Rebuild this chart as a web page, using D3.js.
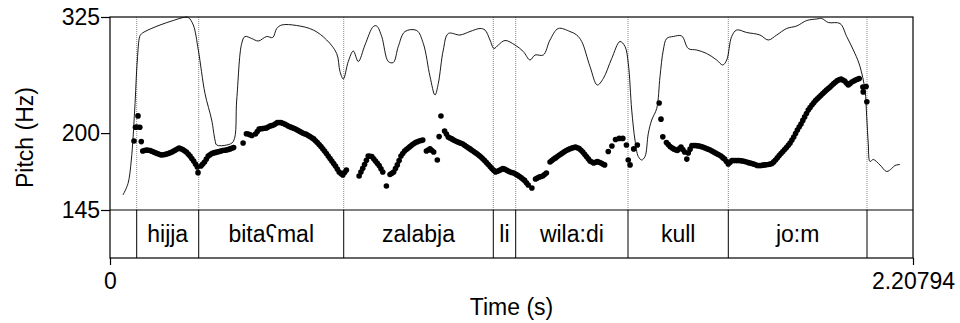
<!DOCTYPE html>
<html>
<head>
<meta charset="utf-8">
<script src="https://cdn.jsdelivr.net/npm/d3@7"></script>
<style>
  body { margin: 0; background: #fff; }
  text { font-family: "Liberation Sans", Arial, Helvetica, sans-serif; fill: #000; }
</style>
</head>
<body>
<div id="chart"></div>
<script>
/* pitch track (s, Hz) with intensity contour and word tier */
var width = 960;
var height = 323;

var duration = 2.20794;
var pitchRange = [145, 325];
var pitchTicks = [145, 200, 325];
var timeTicks = [0, duration];
var intensityRange = [41.4, 80]; // dB

var pitchTrack = [
  [0.066, 193.5], [0.070, 204.9], [0.074, 205.1], [0.077, 214.9], [0.082, 204.9], [0.086, 193.0],
  [0.09, 185.6], [0.095, 186.0], [0.10, 186.4], [0.105, 186.2], [0.11, 186.0], [0.115, 185.4],
  [0.12, 184.8], [0.125, 184.2], [0.13, 183.7], [0.135, 183.1], [0.14, 182.5], [0.145, 182.7],
  [0.15, 182.9], [0.155, 183.3], [0.16, 183.7], [0.165, 184.2], [0.17, 184.8], [0.175, 185.6],
  [0.18, 186.4], [0.185, 187.1], [0.19, 187.9], [0.195, 187.3], [0.20, 186.8], [0.205, 185.8],
  [0.21, 184.8], [0.215, 183.2], [0.22, 181.7], [0.225, 179.8], [0.23, 178.0], [0.235, 175.8],
  [0.24, 173.6], [0.242, 169.5], [0.25, 174.3], [0.255, 175.7], [0.26, 177.2], [0.265, 179.4],
  [0.27, 181.7], [0.275, 182.7], [0.28, 183.7], [0.285, 184.1], [0.29, 184.5], [0.295, 184.8],
  [0.30, 185.2], [0.305, 185.6], [0.31, 186.0], [0.315, 186.2], [0.32, 186.4], [0.325, 186.8],
  [0.33, 187.2], [0.335, 187.7], [0.34, 188.3],
  [0.366, 191.9], [0.375, 199.5],
  [0.38, 199.3], [0.385, 198.6], [0.39, 198.0], [0.40, 199.3], [0.405, 201.4], [0.41, 203.5],
  [0.415, 203.7], [0.42, 203.9], [0.425, 204.1], [0.43, 204.3], [0.435, 205.1], [0.44, 206.0],
  [0.445, 206.4], [0.45, 206.9], [0.455, 208.0], [0.46, 209.1], [0.465, 209.1], [0.47, 209.1],
  [0.475, 208.4], [0.48, 207.8], [0.485, 206.9], [0.49, 206.0], [0.495, 205.3], [0.50, 204.7],
  [0.505, 204.1], [0.51, 203.5], [0.515, 202.6], [0.52, 201.7], [0.525, 200.9], [0.53, 200.1],
  [0.535, 199.5], [0.54, 198.9], [0.545, 198.0], [0.55, 197.2], [0.555, 196.2], [0.56, 195.2],
  [0.565, 193.7], [0.57, 192.3], [0.575, 190.7], [0.58, 189.1], [0.585, 187.3], [0.59, 185.6],
  [0.595, 183.6], [0.60, 181.7], [0.605, 179.8], [0.61, 178.0], [0.615, 176.1], [0.62, 174.3],
  [0.625, 172.1], [0.63, 170.0], [0.635, 168.9], [0.64, 167.9], [0.645, 169.6], [0.65, 171.4],
  [0.685, 167.2], [0.69, 170.0], [0.695, 172.7], [0.70, 175.4], [0.705, 178.5], [0.71, 181.7],
  [0.715, 181.5], [0.72, 181.3], [0.725, 179.6], [0.73, 178.0], [0.735, 176.3], [0.74, 174.7],
  [0.745, 172.3], [0.75, 170.0], [0.76, 160.3], [0.77, 168.2], [0.775, 169.1], [0.78, 170.0],
  [0.785, 172.5], [0.79, 175.1], [0.795, 178.4], [0.80, 181.7], [0.805, 183.6], [0.81, 185.6],
  [0.815, 186.7], [0.82, 187.9], [0.825, 189.1], [0.83, 190.3], [0.835, 191.3], [0.84, 192.3],
  [0.845, 192.9], [0.85, 193.5], [0.855, 193.9], [0.86, 194.3], [0.87, 185.6], [0.875, 186.4],
  [0.88, 187.2], [0.885, 186.0], [0.89, 184.8], [0.90, 178.7], [0.905, 197.1],
  [0.91, 214.8], [0.92, 201.7], [0.925, 199.2], [0.93, 196.8], [0.935, 196.0], [0.94, 195.2],
  [0.945, 194.3], [0.95, 193.5], [0.955, 192.9], [0.96, 192.3], [0.965, 191.7], [0.97, 191.1],
  [0.975, 190.1], [0.98, 189.1], [0.985, 188.1], [0.99, 187.2], [0.995, 186.2], [1.00, 185.2],
  [1.005, 184.2], [1.01, 183.3], [1.015, 182.1], [1.02, 181.0], [1.025, 179.6], [1.03, 178.3],
  [1.035, 176.8], [1.04, 175.4], [1.045, 173.9], [1.05, 172.5], [1.055, 171.2], [1.06, 170.0],
  [1.065, 170.5], [1.07, 171.0], [1.075, 171.7], [1.08, 172.5], [1.085, 172.0], [1.09, 171.4],
  [1.095, 170.7], [1.10, 170.0], [1.105, 169.6], [1.11, 169.3], [1.115, 168.6], [1.12, 167.9],
  [1.125, 167.0], [1.13, 166.1], [1.135, 165.1], [1.14, 164.1], [1.145, 162.5], [1.15, 161.0],
  [1.16, 159.0], [1.17, 165.1], [1.175, 165.8], [1.18, 166.5], [1.185, 166.8], [1.19, 167.2],
  [1.195, 168.2], [1.20, 169.3], [1.21, 177.2], [1.215, 178.3], [1.22, 179.4], [1.225, 180.3],
  [1.23, 181.3], [1.235, 182.3], [1.24, 183.3], [1.245, 184.2], [1.25, 185.2], [1.255, 186.0],
  [1.26, 186.8], [1.265, 187.3], [1.27, 187.9], [1.275, 188.3], [1.28, 188.7], [1.285, 188.1],
  [1.29, 187.5], [1.295, 186.1], [1.30, 184.8], [1.305, 183.0], [1.31, 181.3], [1.315, 179.6],
  [1.32, 178.0], [1.325, 177.2], [1.33, 176.5], [1.335, 177.0], [1.34, 177.6], [1.345, 177.0],
  [1.35, 176.5], [1.355, 175.8], [1.36, 175.1], [1.37, 185.2], [1.38, 189.5],
  [1.39, 194.7], [1.40, 195.6], [1.41, 195.6], [1.42, 190.3], [1.425, 178.7], [1.43, 175.1],
  [1.44, 187.2], [1.45, 190.3],
  [1.510, 226.8], [1.515, 212.0], [1.520, 196.9], [1.53, 192.3], [1.535, 190.7], [1.54, 189.1],
  [1.545, 188.1], [1.55, 187.2], [1.555, 186.6], [1.56, 186.0], [1.565, 187.3], [1.57, 188.7],
  [1.575, 186.7], [1.58, 184.8], [1.586, 179.4], [1.59, 184.0], [1.595, 187.0], [1.60, 189.9],
  [1.605, 189.9], [1.61, 189.9], [1.615, 189.7], [1.62, 189.5], [1.625, 189.1], [1.63, 188.7],
  [1.635, 188.1], [1.64, 187.5], [1.645, 186.9], [1.65, 186.4], [1.655, 185.6], [1.66, 184.8],
  [1.665, 184.0], [1.67, 183.3], [1.675, 182.5], [1.68, 181.7], [1.685, 180.5], [1.69, 179.4],
  [1.695, 177.6], [1.70, 175.8], [1.705, 177.0], [1.71, 178.3], [1.715, 178.3], [1.72, 178.3],
  [1.725, 178.3], [1.73, 178.3], [1.735, 178.1], [1.74, 178.0], [1.745, 177.6], [1.75, 177.2],
  [1.755, 176.8], [1.76, 176.5], [1.765, 176.1], [1.77, 175.8], [1.775, 175.2], [1.78, 174.7],
  [1.785, 174.7], [1.79, 174.7], [1.795, 174.9], [1.80, 175.1], [1.805, 175.2], [1.81, 175.4],
  [1.815, 175.7], [1.82, 176.1], [1.825, 177.3], [1.83, 178.7], [1.835, 180.4], [1.84, 182.1],
  [1.845, 183.6], [1.85, 185.2], [1.855, 186.7], [1.86, 188.3], [1.865, 190.1], [1.87, 191.9],
  [1.875, 194.3], [1.88, 196.8], [1.885, 199.7], [1.89, 202.6], [1.895, 205.2], [1.90, 207.8],
  [1.905, 210.9], [1.91, 214.0], [1.915, 217.1], [1.92, 220.3], [1.925, 222.6], [1.93, 225.0],
  [1.935, 227.1], [1.94, 229.2], [1.945, 230.9], [1.95, 232.6], [1.955, 234.3], [1.96, 236.0],
  [1.965, 237.7], [1.97, 239.5], [1.975, 241.0], [1.98, 242.5], [1.985, 244.3], [1.99, 246.1],
  [1.995, 247.6], [2.00, 249.2], [2.005, 250.0], [2.01, 250.8], [2.015, 249.8], [2.02, 248.7],
  [2.025, 246.6], [2.03, 244.6], [2.035, 246.1], [2.04, 247.7], [2.045, 248.7], [2.05, 249.7],
  [2.055, 250.5], [2.06, 251.3], [2.07, 242.5], [2.071, 237.6], [2.079, 243.1], [2.081, 228.0]
];

var intensityTrack = [
  [0.0357, 44.4], [0.0495, 46.7], [0.0586, 51.4], [0.0679, 61.4], [0.0751, 71.4], [0.0817, 76.1],
  [0.0861, 76.6], [0.0962, 77.1], [0.1375, 78.4], [0.1740, 79.3], [0.2015, 79.9], [0.2153, 79.9],
  [0.2290, 78.4], [0.2428, 73.4], [0.2612, 64.7], [0.2796, 59.4], [0.2887, 55.4], [0.2934, 54.4],
  [0.3209, 54.4], [0.3390, 55.1], [0.3484, 63.4], [0.3621, 74.7], [0.3712, 76.1], [0.3896, 75.7],
  [0.4078, 75.2], [0.4309, 76.1], [0.4474, 75.9], [0.4584, 77.7], [0.4721, 78.4], [0.5134, 78.3],
  [0.5590, 77.4], [0.5958, 75.4], [0.6233, 72.7], [0.6324, 69.1], [0.6415, 67.6], [0.6552, 71.1],
  [0.6690, 73.2], [0.6827, 71.1], [0.7011, 74.4], [0.7240, 78.1], [0.7333, 78.2], [0.7471, 76.1],
  [0.7652, 71.1], [0.7790, 70.9], [0.7927, 74.1], [0.8111, 77.1], [0.8433, 77.3], [0.8615, 74.7],
  [0.8799, 68.1], [0.8936, 64.4], [0.9027, 66.7], [0.9164, 73.4], [0.9302, 76.7], [0.9624, 76.4],
  [0.9899, 77.1], [1.0174, 77.7], [1.0311, 77.4], [1.0448, 75.4], [1.0558, 73.7], [1.0677, 74.4],
  [1.0861, 75.3], [1.1136, 74.4], [1.1364, 73.1], [1.1548, 71.4], [1.1686, 72.4], [1.1914, 72.4],
  [1.2098, 75.4], [1.2326, 77.7], [1.2648, 77.1], [1.2832, 76.4], [1.2970, 75.1], [1.3198, 70.1],
  [1.3399, 66.4], [1.3564, 67.7], [1.3795, 71.7], [1.4023, 75.1], [1.4161, 74.1], [1.4251, 70.7],
  [1.4345, 61.4], [1.4435, 55.4], [1.4526, 52.1], [1.4620, 51.4], [1.4711, 52.1], [1.4801, 56.7],
  [1.4895, 59.4], [1.5032, 61.7], [1.5123, 68.1], [1.5214, 73.4], [1.5307, 75.7], [1.5489, 76.1],
  [1.5720, 76.2], [1.5901, 73.7], [1.6132, 73.4], [1.6407, 72.7], [1.6682, 71.4], [1.6847, 70.4],
  [1.6957, 71.4], [1.7094, 76.1], [1.7232, 77.4], [1.7507, 76.9], [1.7872, 76.4], [1.8100, 75.4],
  [1.8332, 76.4], [1.8606, 77.7], [1.8881, 78.2], [1.9157, 79.3], [1.9432, 79.6], [1.9569, 79.7],
  [1.9750, 78.9], [2.0072, 78.7], [2.0256, 76.1], [2.0484, 72.7], [2.0622, 70.1], [2.0759, 65.4],
  [2.0806, 60.1], [2.0850, 54.7], [2.0897, 51.1], [2.0987, 51.5], [2.1172, 50.4], [2.1356, 49.1],
  [2.1493, 49.7], [2.1584, 50.3], [2.1722, 50.5]
];

// word tier: boundaries and the label of each interval
var wordBounds = [0, 0.0734, 0.2439, 0.6426, 1.0539, 1.1155, 1.4243, 1.7001, 2.0815, duration];
var wordLabels = ["", "hijja", "bita\u0295mal", "zalabja", "li", "wila:di", "kull", "jo:m", ""];

var margin = { left: 110, right: 47, top: 17 };
var pitchBottom = 210;
var tierBottom = 258;

var svg = d3.select("#chart").append("svg")
    .attr("width", width)
    .attr("height", height);

var x = d3.scaleLinear()
    .domain([0, duration])
    .range([margin.left, width - margin.right]);

var y = d3.scaleLog()
    .domain(pitchRange)
    .range([pitchBottom, margin.top]);

var yInt = d3.scaleLinear()
    .domain(intensityRange)
    .range([pitchBottom, margin.top]);

// dotted boundary lines through the pitch panel, solid ones in the tier
var inner = wordBounds.slice(1, -1);
svg.append("g").selectAll("line")
    .data(inner)
    .enter().append("line")
    .attr("x1", function (d) { return x(d); })
    .attr("x2", function (d) { return x(d); })
    .attr("y1", margin.top)
    .attr("y2", pitchBottom)
    .attr("stroke", "#888")
    .attr("stroke-width", 1)
    .attr("stroke-dasharray", "1,1");

svg.append("g").selectAll("line")
    .data(inner)
    .enter().append("line")
    .attr("x1", function (d) { return x(d); })
    .attr("x2", function (d) { return x(d); })
    .attr("y1", pitchBottom)
    .attr("y2", tierBottom)
    .attr("stroke", "#000")
    .attr("stroke-width", 1);

// intensity curve
var intLine = d3.line()
    .curve(d3.curveCatmullRom.alpha(0.5))
    .x(function (d) { return x(d[0]); })
    .y(function (d) { return yInt(d[1]); });

svg.append("path")
    .datum(intensityTrack)
    .attr("d", intLine)
    .attr("fill", "none")
    .attr("stroke", "#000")
    .attr("stroke-width", 0.9);

// pitch speckles
svg.append("g").selectAll("circle")
    .data(pitchTrack)
    .enter().append("circle")
    .attr("cx", function (d) { return x(d[0]); })
    .attr("cy", function (d) { return y(d[1]); })
    .attr("r", 2.8)
    .attr("fill", "#000");

// frame + tier separator
svg.append("rect")
    .attr("x", x(0))
    .attr("y", margin.top)
    .attr("width", x(duration) - x(0))
    .attr("height", tierBottom - margin.top)
    .attr("fill", "none")
    .attr("stroke", "#000")
    .attr("stroke-width", 1.2);

svg.append("line")
    .attr("x1", x(0)).attr("x2", x(duration))
    .attr("y1", pitchBottom).attr("y2", pitchBottom)
    .attr("stroke", "#000")
    .attr("stroke-width", 1);

// tier labels
svg.append("g").selectAll("text")
    .data(wordLabels)
    .enter().append("text")
    .attr("x", function (d, i) { return (x(wordBounds[i]) + x(wordBounds[i + 1])) / 2; })
    .attr("y", 242)
    .attr("text-anchor", "middle")
    .attr("font-size", 23)
    .text(function (d) { return d; });

// axes
var yAxis = d3.axisLeft(y)
    .tickValues(pitchTicks)
    .tickFormat(d3.format("d"))
    .tickSize(9)
    .tickPadding(1);

var gy = svg.append("g")
    .attr("transform", "translate(" + x(0) + ",0)")
    .call(yAxis);

var xAxis = d3.axisBottom(x)
    .tickValues(timeTicks)
    .tickFormat(function (d) { return d === 0 ? "0" : String(duration); })
    .tickSize(7)
    .tickPadding(8);

var gx = svg.append("g")
    .attr("transform", "translate(0," + tierBottom + ")")
    .call(xAxis);

[gx, gy].forEach(function (g) {
    g.select(".domain").remove();
    g.selectAll(".tick line").attr("stroke", "#000").attr("stroke-width", 1.2);
    g.selectAll(".tick text")
        .attr("fill", "#000")
        .attr("font-size", 23)
        .attr("font-family", "'Liberation Sans', Arial, Helvetica, sans-serif");
});

// axis titles
svg.append("text")
    .attr("x", (x(0) + x(duration)) / 2)
    .attr("y", 315)
    .attr("text-anchor", "middle")
    .attr("font-size", 23)
    .text("Time (s)");

svg.append("text")
    .attr("transform", "translate(33," + ((margin.top + tierBottom) / 2) + ") rotate(-90)")
    .attr("text-anchor", "middle")
    .attr("font-size", 23)
    .text("Pitch (Hz)");
</script>
</body>
</html>
